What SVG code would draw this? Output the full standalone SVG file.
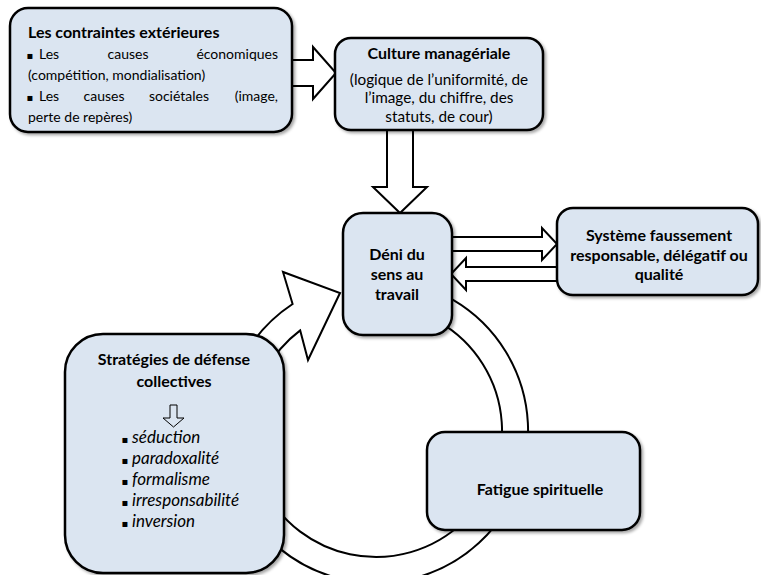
<svg xmlns="http://www.w3.org/2000/svg" width="761" height="575" viewBox="0 0 761 575">
<style>
  .box { fill: #dbe5f1; stroke: #000; stroke-width: 2.5; filter: url(#sh); }
  .arr { fill: #fff; stroke: #000; stroke-width: 2; stroke-linejoin: miter; }
  text { font-family: Lato, "Open Sans", sans-serif; font-size: 14px; fill: #000; }
  .b { font-weight: bold; font-size: 16px; }
  .m { font-size: 15.3px; }
  .c { text-anchor: middle; }
  .e { text-anchor: end; }
  .i { font-style: italic; font-size: 17px; }
  .bul { font-family: "DejaVu Sans", sans-serif; font-size: 10px; text-anchor: middle; }
</style>
<defs>
  <filter id="sh" x="-10%" y="-10%" width="120%" height="120%">
    <feDropShadow dx="2" dy="2" stdDeviation="1.5" flood-color="#000" flood-opacity="0.35"/>
  </filter>
</defs>
<g id="connectors">
  <path id="ring" class="arr" d="M389.3,279.6 A152,152 0 1 1 292.6,304 L283,272 L340,293 L308,360 L300.2,330.4 A126,126 0 1 0 387,305.5 Z"/>
  <polygon id="a1" class="arr" points="290,60 313,60 313,47 336,73 313,99 313,86 290,86"/>
  <polygon id="a2" class="arr" points="387,128 413,128 413,187 427,187 400,213 373,187 387,187"/>
  <polygon id="a3" class="arr" points="450,237 542,237 542,228 557,244 542,260 542,251 450,251"/>
  <polygon id="a4" class="arr" points="559,267 466,267 466,258 451,274 466,290 466,281 559,281"/>
</g>
<g id="n1">
  <rect class="box" x="10" y="8" width="282" height="124" rx="18"/>
  <text class="b" x="28" y="38">Les contraintes extérieures</text>
  <text class="bul" x="30" y="59">▪</text>
  <text x="39" y="59">Les</text>
  <text class="c" x="128" y="59">causes</text>
  <text class="e" x="278" y="59">économiques</text>
  <text x="28" y="80">(compétition, mondialisation)</text>
  <text class="bul" x="30" y="101">▪</text>
  <text x="39" y="101">Les</text>
  <text class="c" x="104" y="101">causes</text>
  <text class="c" x="179" y="101">sociétales</text>
  <text class="e" x="278" y="101">(image,</text>
  <text x="28" y="122">perte de repères)</text>
</g>
<g id="n2">
  <rect class="box" x="335" y="38" width="208" height="92" rx="16"/>
  <text class="b c" x="439" y="59">Culture managériale</text>
  <text class="m c" x="439" y="85">(logique de l’uniformité, de</text>
  <text class="m c" x="439" y="103">l’image, du chiffre, des</text>
  <text class="m c" x="439" y="122">statuts, de cour)</text>
</g>
<g id="n3">
  <rect class="box" x="343" y="213" width="109" height="122" rx="20"/>
  <text class="b c" x="397" y="260">Déni du</text>
  <text class="b c" x="397" y="280">sens au</text>
  <text class="b c" x="397" y="300">travail</text>
</g>
<g id="n4">
  <rect class="box" x="557" y="208" width="201" height="87" rx="16"/>
  <text class="b c" x="659" y="241">Système faussement</text>
  <text class="b c" x="659" y="261">responsable, délégatif ou</text>
  <text class="b c" x="659" y="280">qualité</text>
</g>
<g id="n5">
  <rect class="box" x="65" y="334" width="219" height="239" rx="38"/>
  <text class="b c" x="174" y="365">Stratégies de défense</text>
  <text class="b c" x="174" y="387">collectives</text>
  <polygon points="170,405 177,405 177,418 184,418 173.5,427 163,418 170,418" fill="none" stroke="#000" stroke-width="1"/>
  <text class="bul" x="125" y="443">▪</text>
  <text class="i" x="132" y="443">séduction</text>
  <text class="bul" x="125" y="464">▪</text>
  <text class="i" x="132" y="464">paradoxalité</text>
  <text class="bul" x="125" y="485">▪</text>
  <text class="i" x="132" y="485">formalisme</text>
  <text class="bul" x="125" y="506">▪</text>
  <text class="i" x="132" y="506">irresponsabilité</text>
  <text class="bul" x="125" y="527">▪</text>
  <text class="i" x="132" y="527">inversion</text>
</g>
<g id="n6">
  <rect class="box" x="427" y="432" width="213" height="98" rx="18"/>
  <text class="b c" x="540" y="495">Fatigue spirituelle</text>
</g>
</svg>
